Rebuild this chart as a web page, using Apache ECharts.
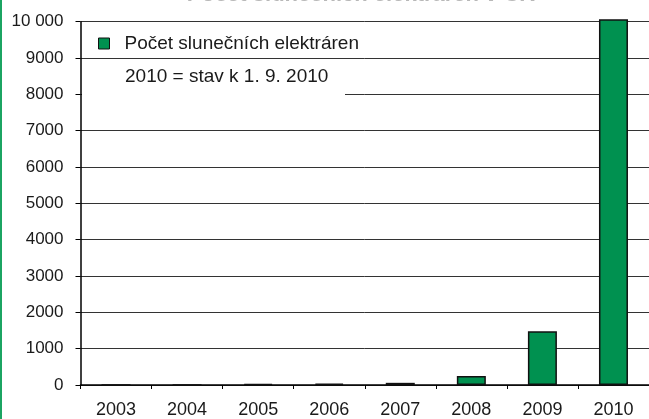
<!DOCTYPE html>
<html>
<head>
<meta charset="utf-8">
<script src="https://cdn.jsdelivr.net/npm/echarts@6/dist/echarts.min.js"></script>
<style>
html,body{margin:0;padding:0;background:#fff;}
#chart{width:649px;height:419px;}
</style>
</head>
<body>
<div id="chart"></div>
<script>
var categories = ['2003','2004','2005','2006','2007','2008','2009','2010'];
var plantCounts = [1, 2, 30, 35, 60, 250, 1480, 10070];
var seriesName = 'Počet slunečních elektráren';
var noteText = '2010 = stav k 1. 9. 2010';
var titleText = 'Počet slunečních elektráren v ČR';

var chart = echarts.init(document.getElementById('chart'), null, {renderer:'canvas'});
var FONT = '"Liberation Sans", Arial, Helvetica, sans-serif';
chart.setOption({
  animation: false,
  backgroundColor: '#ffffff',
  title: {
    text: titleText,
    left: 356, textAlign: 'center',
    top: -21,
    textStyle: {fontFamily: FONT, fontSize: 22, fontWeight: 'bold', color: '#b8b8b8'}
  },
  grid: {left: 80.5, right: -9.5, top: 21.7, bottom: 31.5, containLabel: false},
  legend: {
    left: 93, top: 29,
    icon: 'rect', itemWidth: 11, itemHeight: 11,
    itemStyle: {borderColor: '#111', borderWidth: 1},
    textStyle: {fontFamily: FONT, fontSize: 19, color: '#1a1a1a', padding: [0,0,0,10]},
    data: [seriesName]
  },
  xAxis: {
    type: 'category',
    data: categories,
    axisLine: {lineStyle: {color: '#000', width: 1.5}},
    axisTick: {show: true, length: 4, alignWithLabel: false, lineStyle: {color: '#000'}},
    axisLabel: {fontFamily: FONT, fontSize: 18, color: '#1a1a1a', margin: 16}
  },
  yAxis: {
    type: 'value', min: 0, max: 10000, interval: 1000,
    axisLine: {show: true, lineStyle: {color: '#000', width: 1.5}},
    axisTick: {show: true, length: 5, lineStyle: {color: '#000'}},
    splitLine: {show: true, lineStyle: {color: '#333', width: 1}},
    axisLabel: {
      fontFamily: FONT, fontSize: 17, color: '#1a1a1a', margin: 17,
      formatter: function(v){ return v >= 10000 ? String(v).replace(/(\d)(?=(\d{3})+$)/g,'$1 ') : String(v); }
    }
  },
  graphic: [
    {type: 'rect', left: 0, top: 0, shape: {width: 2, height: 419}, style: {fill: '#1ba462'}, z: 100},
    {type: 'rect', left: 82, top: 62, shape: {width: 263, height: 38}, style: {fill: '#ffffff'}, z: 50},
    {type: 'text', left: 125, top: 67, style: {text: noteText, font: '19px ' + FONT, fill: '#1a1a1a'}, z: 51}
  ],
  series: [{
    name: seriesName,
    type: 'bar',
    data: plantCounts,
    barWidth: 29,
    clip: false,
    itemStyle: {color: '#009150', borderColor: '#111', borderWidth: 1.5}
  }]
});
</script>
</body>
</html>
